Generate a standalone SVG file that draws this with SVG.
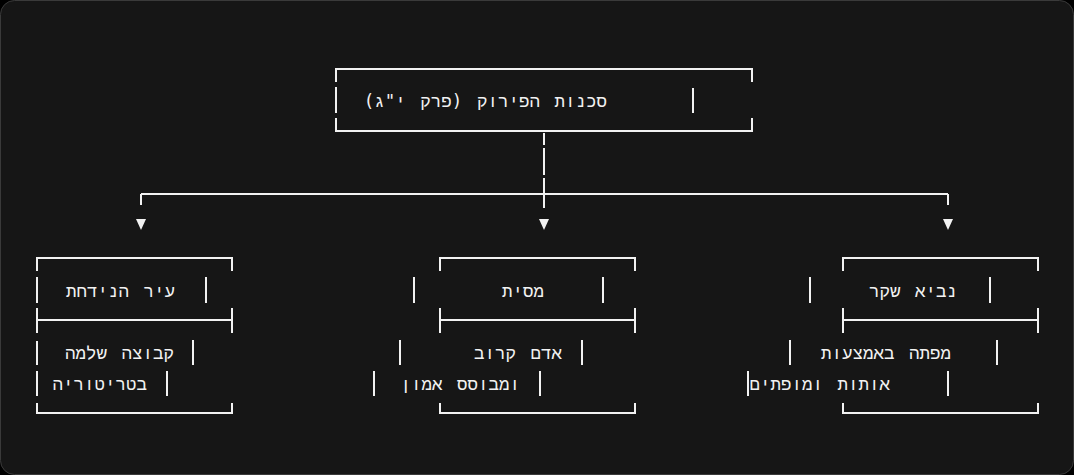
<svg xmlns="http://www.w3.org/2000/svg" width="1074" height="475" viewBox="0 0 1074 475">
<style>
.l{stroke:#f2f2f2;stroke-width:2;fill:none}
.t{font-family:"DejaVu Sans Mono","Liberation Mono",monospace;font-size:17.5px;fill:#f2f2f2;word-spacing:4px}
.a{fill:#f2f2f2}
</style>
<rect x="0" y="0" width="1074" height="475" fill="#000"/>
<rect x="0.5" y="0.5" width="1073" height="474" rx="14" fill="#161616" stroke="#3a3a3a"/>
<g id="top">
<path class="l" d="M336 82V69H752V82M336 87V113M336 118V131H752V118M693 88V113"/>
<text class="t" x="607" y="107" direction="rtl" unicode-bidi="embed">סכנות הפירוק (פרק י"ג)</text>
</g>
<g id="connectors">
<path class="l" d="M544 133V145M544 148V175M544 178V208M141 194H948M141 194V205M948 194V205"/>
<polygon class="a" points="136,219 146,219 141,230"/>
<polygon class="a" points="539,219 549,219 544,230"/>
<polygon class="a" points="943,219 953,219 948,230"/>
</g>
<g id="left">
<path class="l" d="M37 271V258H232V271M37 277V303M37 308V333M232 308V333M37 320H232M37 341V365M37 371V396M37 403V413H232V403M206 277V303M193 340V365M167 371V396"/>
<text class="t" x="175" y="297" direction="rtl" unicode-bidi="embed">עיר הנידחת</text>
<text class="t" x="174" y="359" direction="rtl" unicode-bidi="embed">קבוצה שלמה</text>
<text class="t" x="147" y="390" direction="rtl" unicode-bidi="embed">בטריטוריה</text>
</g>
<g id="middle">
<path class="l" d="M440 271V258H635V271M440 308V333M635 308V333M440 320H635M440 403V413H635V403M414 277V303M603 277V303M400 340V365M582 340V365M374 371V396M540 371V396"/>
<text class="t" x="544" y="297" direction="rtl" unicode-bidi="embed">מסית</text>
<text class="t" x="562" y="359" direction="rtl" unicode-bidi="embed">אדם קרוב</text>
<text class="t" x="520" y="390" direction="rtl" unicode-bidi="embed">ומבוסס אמון</text>
</g>
<g id="right">
<path class="l" d="M843 271V258H1038V271M843 308V333M1038 308V333M843 320H1038M843 403V413H1038V403M810 277V303M990 277V303M790 340V365M997 340V365M748 371V396M948 371V396"/>
<text class="t" x="957" y="297" direction="rtl" unicode-bidi="embed">נביא שקר</text>
<text class="t" x="951" y="359" direction="rtl" unicode-bidi="embed">מפתה באמצעות</text>
<text class="t" x="890" y="390" direction="rtl" unicode-bidi="embed">אותות ומופתים</text>
</g>
</svg>
